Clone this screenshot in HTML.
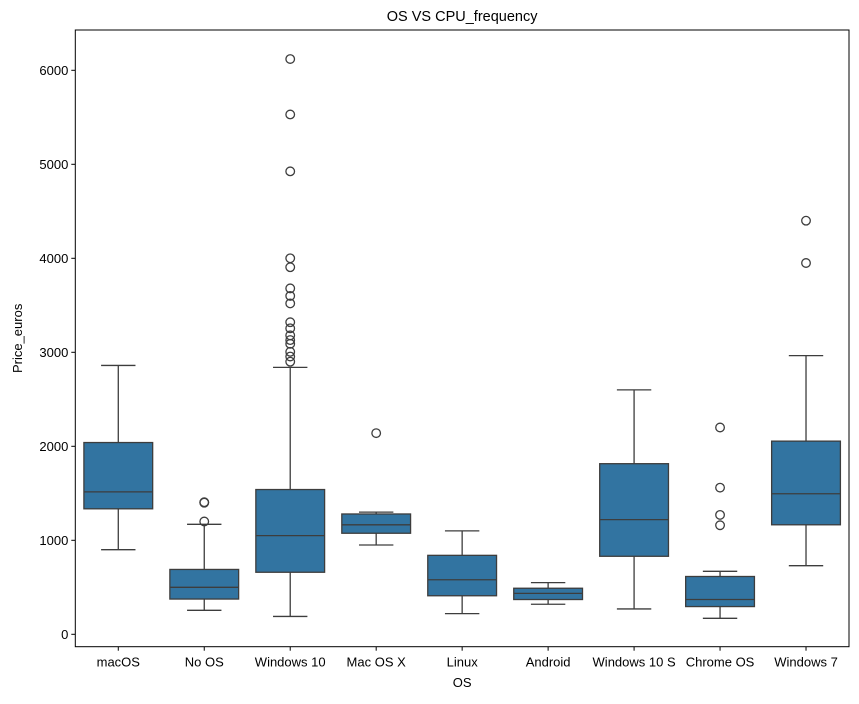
<!DOCTYPE html>
<html><head><meta charset="utf-8"><style>
body{margin:0;background:#fff;}
svg text{font-family:"Liberation Sans","DejaVu Sans",sans-serif;fill:#000;}
</style></head><body>
<svg id="chart" width="859" height="699" xmlns="http://www.w3.org/2000/svg"></svg>
<script>
const categories=["macOS","No OS","Windows 10","Mac OS X","Linux","Android","Windows 10 S","Chrome OS","Windows 7"];
const lowWhisker=[900,255,190,950,220,320,270,170,730];
const q1=[1335,375,660,1075,410,370,830,295,1165];
const median=[1515,500,1050,1165,580,435,1220,370,1495];
const q3=[2040,690,1540,1280,840,490,1815,615,2055];
const highWhisker=[2860,1170,2840,1300,1100,550,2600,670,2965];
const outliers=[[],[1200,1400,1405],[6120,5530,4925,4000,3905,3680,3600,3520,3320,3255,3180,3130,3090,3005,2955,2900],[2140],[],[],[],[1160,1270,1560,2200],[3950,4400]];
const yTicks=[0,1000,2000,3000,4000,5000,6000];
const L=75.3,R=849,T=30,B=646.7;
const y=v=>634.3-v*0.094;
const bw=(R-L)/categories.length;
const x=i=>L+bw*(i+0.5);
const svg=document.getElementById('chart');
const NS="http://www.w3.org/2000/svg";
function mk(tag,a,parent){const e=document.createElementNS(NS,tag);for(const k in a)e.setAttribute(k,a[k]);(parent||svg).appendChild(e);return e;}
const dark="#3d3d3d";
categories.forEach((c,i)=>{
  const g=mk('g',{});
  
  
  const cx=x(i),hw=bw*0.4,cw=bw*0.2;
  mk('line',{x1:cx,x2:cx,y1:y(q3[i]),y2:y(highWhisker[i]),stroke:dark,'stroke-width':1.3},g);
  mk('line',{x1:cx,x2:cx,y1:y(q1[i]),y2:y(lowWhisker[i]),stroke:dark,'stroke-width':1.3},g);
  mk('line',{x1:cx-cw,x2:cx+cw,y1:y(highWhisker[i]),y2:y(highWhisker[i]),stroke:dark,'stroke-width':1.3},g);
  mk('line',{x1:cx-cw,x2:cx+cw,y1:y(lowWhisker[i]),y2:y(lowWhisker[i]),stroke:dark,'stroke-width':1.3},g);
  mk('rect',{x:cx-hw,y:y(q3[i]),width:2*hw,height:y(q1[i])-y(q3[i]),fill:"#3274a1",stroke:dark,'stroke-width':1.3},g);
  mk('line',{x1:cx-hw,x2:cx+hw,y1:y(median[i]),y2:y(median[i]),stroke:dark,'stroke-width':1.3},g);
  outliers[i].forEach(v=>{const o=mk('circle',{cx:cx,cy:y(v),r:4.3,fill:"none",stroke:dark,'stroke-width':1.3},g);
    
    });
  mk('line',{x1:cx,x2:cx,y1:B,y2:B+4,stroke:"#000",'stroke-width':1},g);
  const t=mk('text',{x:cx,y:B+20,'text-anchor':'middle','font-size':13},g);t.textContent=c;
  
  
});
yTicks.forEach(v=>{
  mk('line',{x1:L-4,x2:L,y1:y(v),y2:y(v),stroke:"#000",'stroke-width':1});
  const t=mk('text',{x:L-7,y:y(v)+4.5,'text-anchor':'end','font-size':13});t.textContent=v;
  
  
});
mk('rect',{x:L,y:T,width:R-L,height:B-T,fill:"none",stroke:"#000",'stroke-width':1});
let t=mk('text',{x:(L+R)/2,y:21,'text-anchor':'middle','font-size':14.5});t.textContent="OS VS CPU_frequency";


t=mk('text',{x:(L+R)/2,y:687,'text-anchor':'middle','font-size':13});t.textContent="OS";


t=mk('text',{x:0,y:0,'text-anchor':'middle','font-size':13,transform:`translate(22,${(T+B)/2}) rotate(-90)`});t.textContent="Price_euros";


</script>
</body></html>
